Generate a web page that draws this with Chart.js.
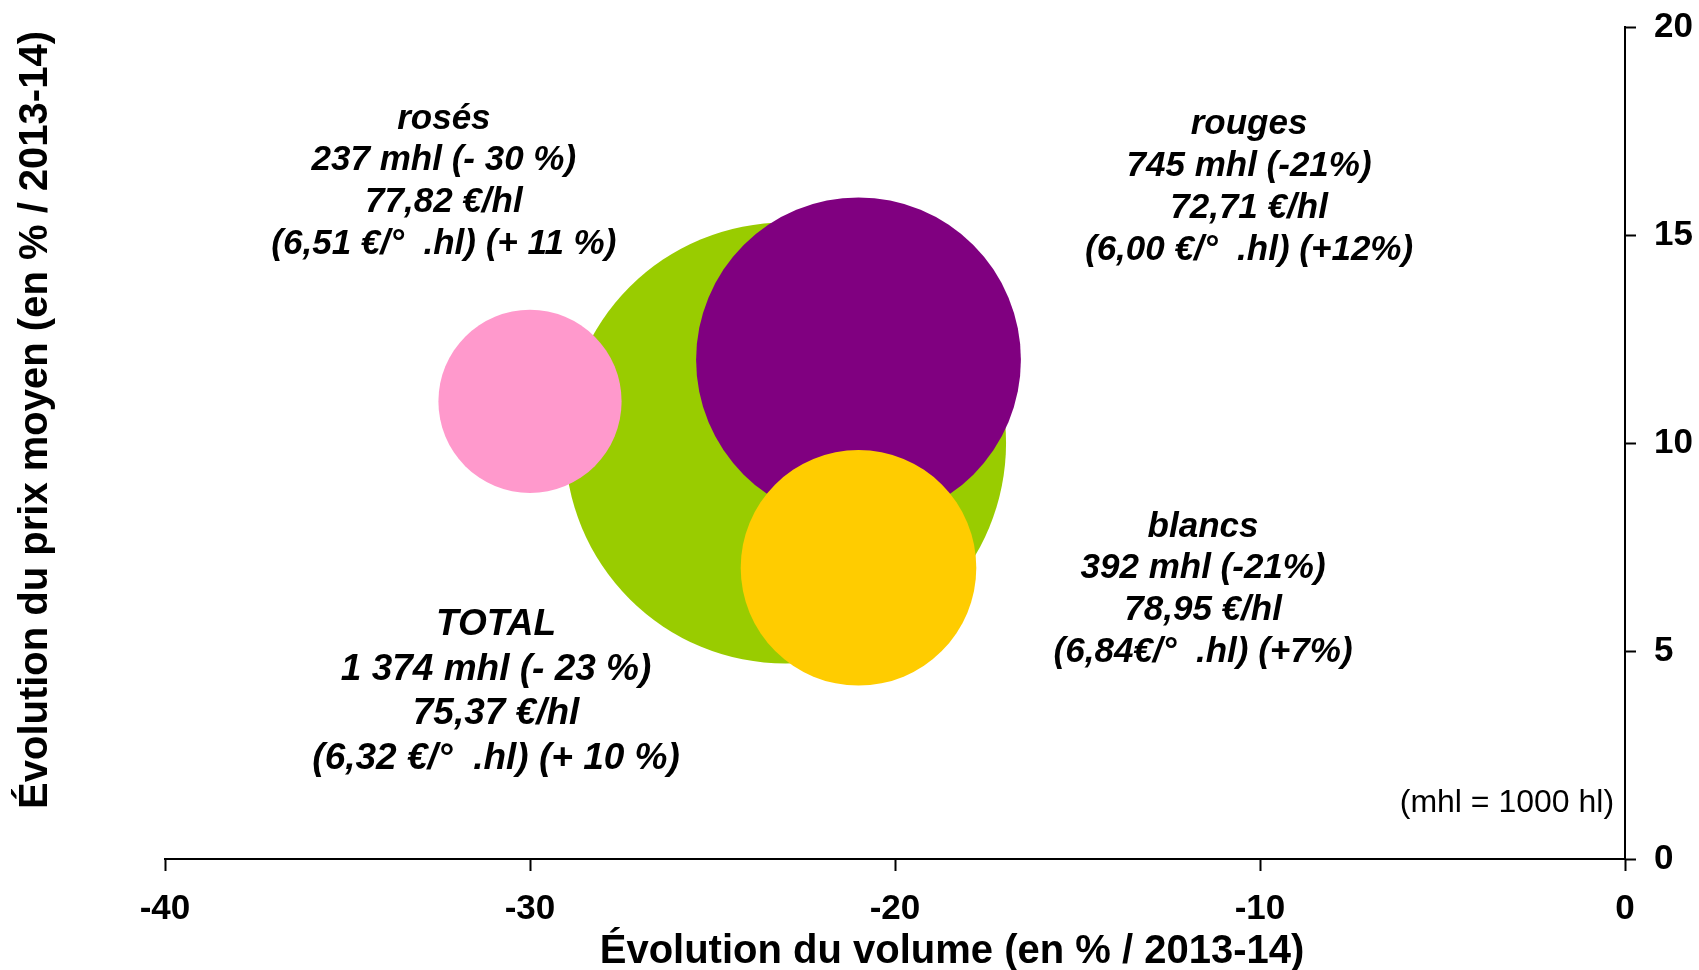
<!DOCTYPE html>
<html><head><meta charset="utf-8">
<script src="https://cdn.jsdelivr.net/npm/chart.js@4.4.1/dist/chart.umd.min.js"></script>
<style>html,body{margin:0;padding:0;background:#fff;} #wrap{width:1699px;height:970px;position:relative;}</style>
</head><body><div id="wrap"><canvas id="c"></canvas></div>
<script>
// ---- data ----
const categories = ['TOTAL', 'rouges', 'rosés', 'blancs'];
const volumeChange = [-23, -21, -30, -21];   // x : évolution du volume (%)
const priceChange = [10, 12, 11, 7];         // y : évolution du prix moyen (%)
const volumeMhl = [1374, 745, 237, 392];     // bubble size (mhl)
const labelLines = [
  ['TOTAL', '1 374 mhl (- 23 %)', '75,37 €/hl', '(6,32 €/°  .hl) (+ 10 %)'],
  ['rouges', '745 mhl (-21%)', '72,71 €/hl', '(6,00 €/°  .hl) (+12%)'],
  ['rosés', '237 mhl (- 30 %)', '77,82 €/hl', '(6,51 €/°  .hl) (+ 11 %)'],
  ['blancs', '392 mhl (-21%)', '78,95 €/hl', '(6,84€/°  .hl) (+7%)']
];
const xTickValues = [-40, -30, -20, -10, 0];
const yTickValues = [0, 5, 10, 15, 20];
const xTitle = 'Évolution du volume (en % / 2013-14)';
const yTitle = 'Évolution du prix moyen (en % / 2013-14)';
const noteText = '(mhl = 1000 hl)';

// ---- styles / layout ----
const colors = ['#99CC00', '#800080', '#FF99CC', '#FFCC00'];
const FONT = "'Liberation Sans', Arial, Helvetica, sans-serif";
const RADIUS_K = 5.95;
// label anchors in data units (centre x, first-line y), font size, line spacing
const labelPlacement = [
  {x: -30.93, y: 5.63, size: 37, gap: 44.6},
  {x: -10.30, y: 17.65, size: 35, gap: 41.7},
  {x: -32.36, y: 17.79, size: 35, gap: 41.7},
  {x: -11.56, y: 7.98, size: 35, gap: 41.7}
];

// keep the chart area where the axes are, not padded by bubble radius
Chart.BubbleController.prototype.getMaxOverflow = function () { return false; };

const textPlugin = {
  id: 'texts',
  afterDatasetsDraw(chart) {
    const ctx = chart.ctx, xs = chart.scales.x, ys = chart.scales.y;
    ctx.save();
    ctx.fillStyle = '#000';
    ctx.textAlign = 'center';
    ctx.textBaseline = 'middle';
    labelLines.forEach((lines, i) => {
      const p = labelPlacement[i];
      const cx = xs.getPixelForValue(p.x), cy = ys.getPixelForValue(p.y);
      ctx.font = `italic bold ${p.size}px ${FONT}`;
      lines.forEach((t, j) => ctx.fillText(t, cx, cy + j * p.gap));
    });
    // note
    ctx.font = `normal 32px ${FONT}`;
    ctx.textAlign = 'right';
    ctx.fillText(noteText, xs.getPixelForValue(-0.3), ys.getPixelForValue(1.35));
    // x title
    ctx.font = `bold 40px ${FONT}`;
    ctx.textAlign = 'center';
    ctx.textBaseline = 'alphabetic';
    ctx.fillText(xTitle, 952, 963);
    // y title
    ctx.translate(47, 420);
    ctx.rotate(-Math.PI / 2);
    ctx.font = `bold 40px ${FONT}`;
    ctx.textBaseline = 'alphabetic';
    ctx.fillText(yTitle, 0, 0);
    ctx.restore();
  }
};

new Chart(document.getElementById('c'), {
  type: 'bubble',
  data: {
    datasets: [{
      label: 'vins',
      data: categories.map((c, i) => ({x: volumeChange[i], y: priceChange[i]})),
      backgroundColor: colors,
      borderWidth: 0,
      radius: (ctx) => RADIUS_K * Math.sqrt(volumeMhl[ctx.dataIndex]),
      hoverRadius: 0,
      clip: false
    }]
  },
  options: {
    responsive: true,
    maintainAspectRatio: false,
    animation: false,
    events: [],
    layout: {padding: {left: 165, top: 27, right: 0, bottom: 0}},
    plugins: {legend: {display: false}, tooltip: {enabled: false}, title: {display: false}},
    scales: {
      x: {
        type: 'linear', position: 'bottom', min: -40, max: 0,
        afterBuildTicks: (s) => { s.ticks = xTickValues.map(v => ({value: v})); },
        afterFit: (s) => { s.height = 111; s.paddingLeft = 0; s.paddingRight = 0; },
        grid: {display: true, drawOnChartArea: false, drawTicks: true, tickLength: 12, tickColor: '#000', tickWidth: 2},
        border: {display: true, color: '#000', width: 2},
        ticks: {color: '#000', padding: 17, font: {family: FONT, size: 35, weight: 'bold'}, maxRotation: 0}
      },
      y: {
        type: 'linear', position: 'right', min: 0, max: 20,
        afterBuildTicks: (s) => { s.ticks = yTickValues.map(v => ({value: v})); },
        afterFit: (s) => { s.width = 74; s.paddingTop = 0; s.paddingBottom = 0; },
        grid: {display: true, drawOnChartArea: false, drawTicks: true, tickLength: 11, tickColor: '#000', tickWidth: 2},
        border: {display: true, color: '#000', width: 2},
        ticks: {color: '#000', padding: 18, font: {family: FONT, size: 35, weight: 'bold'}}
      }
    }
  },
  plugins: [textPlugin]
});
</script>
</body></html>
